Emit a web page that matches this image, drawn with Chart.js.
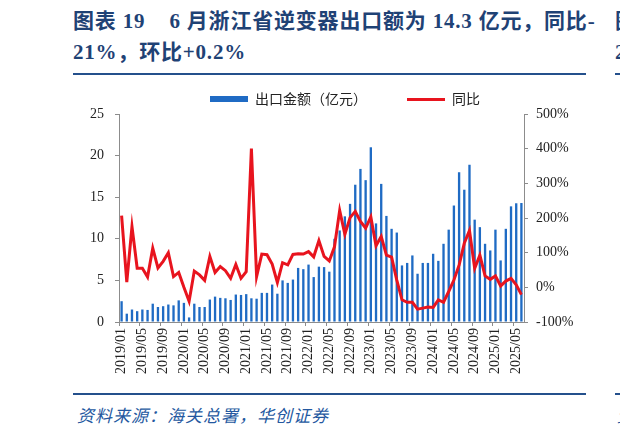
<!DOCTYPE html>
<html>
<head>
<meta charset="utf-8">
<script src="https://cdn.jsdelivr.net/npm/chart.js@4.4.1/dist/chart.umd.min.js"></script>
<style>
  html, body { margin: 0; padding: 0; background: #fff; }
  body { width: 620px; height: 435px; overflow: hidden; position: relative; }
  .title { position: absolute; top: 6px; font: bold 21px/31px "Liberation Serif", "Noto Sans CJK SC", serif; letter-spacing: 0.8px; color: #1F4275; white-space: nowrap; }
  .rule { position: absolute; height: 2px; background: #24508C; }
  .src { position: absolute; top: 402px; font: italic 17px "Noto Sans CJK SC", sans-serif; letter-spacing: 1px; color: #2458A0; white-space: nowrap; }
  #wrap { position: absolute; left: 0; top: 0; width: 620px; height: 435px; }
</style>
</head>
<body>
<div class="title" style="left:73px">图表 19&nbsp;&nbsp;&nbsp;&nbsp;6 月浙江省逆变器出口额为 14.3 亿元，同比-<br>21%，环比+0.2%</div>
<div class="title" style="left:615px">图表<br>2</div>
<div class="rule" style="left:73px;top:73px;width:513px"></div>
<div class="rule" style="left:615px;top:73px;width:10px"></div>
<div class="rule" style="left:73px;top:393px;width:513px"></div>
<div class="rule" style="left:615px;top:393px;width:10px"></div>
<div class="src" style="left:77px">资料来源：海关总署，华创证券</div>
<div class="src" style="left:617px">资料</div>
<div id="wrap"><canvas id="myChart"></canvas></div>
<script>
const months = [
  '2019/01','2019/02','2019/03','2019/04','2019/05','2019/06','2019/07','2019/08','2019/09','2019/10','2019/11','2019/12',
  '2020/01','2020/02','2020/03','2020/04','2020/05','2020/06','2020/07','2020/08','2020/09','2020/10','2020/11','2020/12',
  '2021/01','2021/02','2021/03','2021/04','2021/05','2021/06','2021/07','2021/08','2021/09','2021/10','2021/11','2021/12',
  '2022/01','2022/02','2022/03','2022/04','2022/05','2022/06','2022/07','2022/08','2022/09','2022/10','2022/11','2022/12',
  '2023/01','2023/02','2023/03','2023/04','2023/05','2023/06','2023/07','2023/08','2023/09','2023/10','2023/11','2023/12',
  '2024/01','2024/02','2024/03','2024/04','2024/05','2024/06','2024/07','2024/08','2024/09','2024/10','2024/11','2024/12',
  '2025/01','2025/02','2025/03','2025/04','2025/05','2025/06'
]

// 出口金额（亿元）
const exportValue = [
  2.5, 1.0, 1.5, 1.3, 1.5, 1.45, 2.2, 1.8, 1.9, 2.1, 2.0, 2.6,
  2.3, 0.55, 2.2, 1.8, 1.8, 2.7, 3.05, 2.9, 2.85, 2.65, 3.3, 3.25,
  3.35, 2.85, 2.8, 3.5, 3.5, 4.5, 3.4, 5.0, 4.7, 5.1, 6.5, 6.35,
  6.9, 5.4, 6.65, 6.6, 6.05, 10.0, 11.0, 12.7, 14.2, 16.5, 18.4, 17.05,
  21.0, 11.85, 16.6, 12.75, 11.2, 10.75, 6.8, 7.1, 8.0, 5.8, 7.1, 7.1,
  8.2, 7.35, 9.4, 11.1, 14.0, 18.0, 15.9, 18.9, 12.3, 11.4, 9.4, 8.6,
  11.1, 7.4, 11.2, 13.9, 14.27, 14.3
]

// 同比（%）
const yoy = [
  207, 15, 175, 55, 55, 30, 113, 56, 75, 100, 31, 43,
  0, -40, 47, 36, 20, 89, 43, 60, 48, 26, 66, 26,
  45, 400, 31, 96, 94, 67, 14, 71, 65, 95, 97, 96,
  103, 88, 135, 89, 76, 117, 222, 153, 201, 219, 190, 171,
  203, 120, 147, 93, 87, 21, -36, -43, -43, -63, -60, -57,
  -58, -36, -43, -12, 21, 64, 127, 164, 55, 93, 33, 23,
  33, 4, 18, 26, 7, -21
]

const leftTicks = [0, 5, 10, 15, 20, 25]
const rightTicks = [-100, 0, 100, 200, 300, 400, 500]

const blue = '#1F6BC4'
const red = '#E8141E'
const axisGray = '#8C8C8C'
const tickFont = { family: '"Liberation Serif", "Times New Roman", serif', size: 14 }

// legend swatches
function swatch(w, h, color) {
  const c = document.createElement('canvas')
  c.width = w
  c.height = h
  const g = c.getContext('2d')
  g.fillStyle = color
  g.fillRect(0, 0, w, h)
  return c
}

const ctx = document.getElementById('myChart')
const config = {
  type: 'bar',
  data: {
    labels: months,
    datasets: [{
      label: '出口金额（亿元）',
      data: exportValue,
      yAxisID: 'y',
      backgroundColor: blue,
      barPercentage: 0.45,
      categoryPercentage: 1,
      pointStyle: swatch(38, 6, blue),
      order: 2
    }, {
      type: 'line',
      label: '同比',
      data: yoy,
      yAxisID: 'y1',
      borderColor: red,
      backgroundColor: red,
      borderWidth: 3,
      pointRadius: 0,
      tension: 0,
      pointStyle: swatch(38, 3, red),
      order: 1
    }]
  },
  options: {
    responsive: true,
    maintainAspectRatio: false,
    animation: false,
    layout: { padding: { left: 80, right: 10, top: 52, bottom: 0 } },
    plugins: {
      tooltip: { enabled: false },
      legend: {
        position: 'top',
        maxHeight: 62,
        labels: {
          usePointStyle: true,
          pointStyleWidth: 38,
          padding: 40,
          color: '#222',
          font: { family: '"Noto Sans CJK SC", sans-serif', size: 14 },
          sort: (a, b) => a.datasetIndex - b.datasetIndex
        }
      }
    },
    scales: {
      x: {
        afterFit: s => { s.height = 113 },
        grid: {
          offset: true,
          drawOnChartArea: false,
          tickLength: 4,
          tickColor: c => (c.index % 4 === 0 ? axisGray : 'rgba(0,0,0,0)')
        },
        border: { color: axisGray },
        ticks: {
          autoSkip: false,
          minRotation: 90,
          maxRotation: 90,
          padding: 2,
          color: '#222',
          font: tickFont,
          callback: (v, i) => (i % 4 === 0 ? months[i] : '')
        }
      },
      y: {
        position: 'left',
        min: 0,
        max: 25,
        afterFit: s => { s.width = 39 },
        afterBuildTicks: s => { s.ticks = leftTicks.map(v => ({ value: v })) },
        grid: { drawOnChartArea: false, tickLength: 4, tickColor: axisGray },
        border: { color: axisGray },
        ticks: { padding: 11, color: '#222', font: tickFont }
      },
      y1: {
        position: 'right',
        min: -100,
        max: 500,
        afterFit: s => { s.width = 86 },
        afterBuildTicks: s => { s.ticks = rightTicks.map(v => ({ value: v })) },
        grid: { drawOnChartArea: false, tickLength: 4, tickColor: axisGray },
        border: { color: axisGray },
        ticks: { padding: 8, color: '#222', font: tickFont, callback: v => v + '%' }
      }
    }
  }
}

new Chart(ctx, config)
</script>
</body>
</html>
